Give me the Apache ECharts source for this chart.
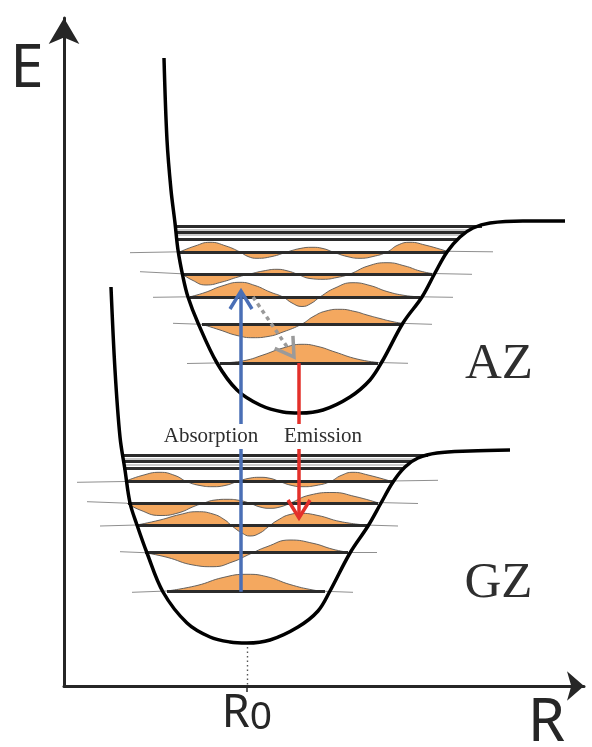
<!DOCTYPE html>
<html>
<head>
<meta charset="utf-8">
<script src="https://cdn.jsdelivr.net/npm/echarts@6/dist/echarts.min.js"></script>
<style>
  html, body { margin: 0; padding: 0; background: #fff; }
  #chart { width: 592px; height: 747px; }
</style>
</head>
<body>
<div id="chart"></div>
<script>
// Potential energy curves, [R, E] in arbitrary units
const azCurve = [[10.0,62.8],[10.3,54.6],[10.7,49.6],[11.1,46.3],[11.4,43.6],[11.9,40.9],[12.4,38.9],[13.4,36.3],[15.3,32.3],[17.3,29.6],[19.6,28.1],[21.9,27.4],[23.6,27.3],[25.9,27.6],[28.6,28.9],[30.6,30.6],[31.9,32.6],[33.9,36.3],[35.8,38.9],[37.1,41.3],[38.3,43.4],[39.6,44.9],[40.9,45.8],[42.6,46.3],[45.9,46.5],[50.1,46.5]];
const gzCurve = [[4.7,39.9],[5.1,31.6],[5.6,24.9],[6.1,21.6],[6.6,18.3],[7.3,16.1],[8.3,13.3],[9.9,9.4],[12.3,6.3],[14.6,4.9],[16.6,4.4],[18.3,4.3],[20.6,4.6],[23.4,5.9],[25.4,7.5],[26.6,9.5],[28.6,13.3],[30.4,16.0],[31.7,18.3],[32.9,20.4],[34.1,21.9],[35.4,22.8],[37.3,23.3],[40.6,23.5],[44.6,23.6]];

// Vibrational levels (energy, left and right turning points)
const azLevels = [32.3, 36.2, 38.9, 41.2, 43.4];
const azLevelLeft = [15.6, 13.8, 12.6, 11.8, 11.6];
const azLevelRight = [31.4, 33.9, 35.6, 36.8, 38.4];
const gzLevels = [9.43, 13.33, 16.1, 18.27, 20.43];
const gzLevelLeft = [10.3, 8.1, 7.3, 6.4, 6.1];
const gzLevelRight = [26.1, 28.4, 30.3, 31.4, 32.9];

// Dense levels just below dissociation
const azBand = [46.0, 45.65, 45.4, 45.1, 44.7];
const azBandLeft = [11.2, 11.25, 11.25, 11.3, 11.4];
const azBandRight = [41.8, 40.6, 40.2, 39.9, 39.4];
const gzBand = [23.05, 22.7, 22.45, 22.15, 21.75];
const gzBandLeft = [5.8, 5.85, 5.85, 5.9, 5.95];
const gzBandRight = [36.4, 35.2, 34.8, 34.5, 34.0];

// Wavefunctions drawn on each level; first and last points are the tails
const azPsi = [
  [[12.3,32.25],[16.1,32.32],[18.1,32.55],[19.9,33.1],[21.9,33.8],[23.8,34.17],[25.4,33.95],[27.1,33.4],[29.3,32.7],[31.4,32.35],[34.4,32.27]],
  [[10.9,36.27],[13.8,36.17],[15.6,35.6],[17.3,35.05],[18.9,34.83],[20.4,34.95],[21.9,35.4],[23.8,36.2],[24.9,36.93],[26.2,37.5],[27.6,37.67],[29.1,37.45],[30.3,37.1],[31.6,36.75],[32.9,36.43],[33.9,36.26],[36.8,36.17]],
  [[8.9,38.87],[12.6,38.92],[14.1,39.35],[15.8,40.0],[17.6,40.37],[19.1,40.05],[20.6,39.4],[21.9,38.9],[22.8,38.3],[23.8,37.95],[24.7,38.25],[25.6,38.9],[27.1,39.8],[28.9,40.33],[30.6,40.05],[32.3,39.45],[34.1,39.05],[35.6,38.92],[38.9,38.87]],
  [[7.6,41.43],[11.8,41.22],[12.8,40.6],[14.2,40.1],[15.8,40.4],[17.4,40.9],[18.6,41.2],[19.9,41.5],[21.3,41.67],[22.4,41.5],[23.3,41.2],[24.6,40.75],[25.9,40.67],[27.3,40.85],[28.6,41.2],[30.4,42.0],[32.3,42.33],[34.1,42.0],[35.6,41.5],[36.8,41.25],[40.8,41.17]],
  [[6.6,43.33],[11.6,43.42],[13.1,44.0],[14.6,44.37],[16.2,44.0],[17.6,43.4],[18.4,42.95],[19.3,42.77],[20.8,42.95],[22.3,43.4],[23.6,43.75],[24.8,43.87],[25.9,43.75],[26.9,43.4],[28.3,42.95],[29.6,42.77],[30.9,42.95],[32.3,43.4],[33.4,44.1],[34.6,44.37],[36.1,44.1],[38.3,43.47],[42.9,43.42]]
];
const gzPsi = [
  [[6.8,9.37],[10.3,9.5],[13.3,10.05],[15.9,10.85],[18.3,11.17],[20.3,10.93],[22.6,10.15],[24.9,9.6],[26.1,9.47],[28.9,9.37]],
  [[5.6,13.43],[8.1,13.33],[10.3,12.87],[12.9,12.1],[14.9,11.93],[16.9,12.43],[18.6,13.2],[20.3,13.93],[22.6,14.6],[24.9,14.27],[26.9,13.67],[28.4,13.37],[31.3,13.33]],
  [[3.6,16.0],[7.3,16.1],[9.6,16.6],[11.6,17.15],[13.3,17.43],[14.9,17.2],[16.1,16.6],[16.8,16.0],[17.8,15.3],[18.6,15.0],[19.6,15.3],[20.4,15.9],[21.4,16.6],[22.6,17.15],[23.6,17.27],[25.4,17.05],[27.6,16.45],[30.1,16.1],[33.4,16.0]],
  [[2.3,18.43],[6.3,18.28],[7.6,17.6],[9.6,17.05],[11.4,17.3],[13.1,18.0],[13.9,18.27],[15.1,18.6],[16.3,18.67],[17.6,18.55],[18.6,18.27],[19.6,17.9],[20.6,17.77],[21.6,17.9],[22.6,18.27],[24.6,19.1],[26.9,19.35],[29.1,18.95],[31.3,18.35],[35.4,18.25]],
  [[1.3,20.37],[6.1,20.45],[7.8,21.05],[9.6,21.37],[11.1,21.05],[12.3,20.43],[13.6,20.05],[14.9,19.93],[16.1,20.05],[17.3,20.43],[18.5,20.77],[19.6,20.87],[20.6,20.77],[21.6,20.43],[22.8,20.05],[23.9,19.93],[25.2,20.05],[26.6,20.43],[27.7,21.05],[28.9,21.37],[30.4,21.1],[32.6,20.5],[37.4,20.57]]
];

// Transitions: [R start, E start, R end, E end]
const absorption = [17.7, 9.43, 17.7, 39.5];
const emission = [23.5, 32.3, 23.5, 16.8];
const relaxation = [18.9, 38.9, 23.0, 32.9];

// Equilibrium distance of the ground state
const R0 = 18.3;
const gzMinimum = 4.3;

const INK = '#262626';
const FILL = '#f4a85f';

function levelSegments(levels, left, right) {
  return levels.map((e, i) => ({ coords: [[left[i], e], [right[i], e]] }));
}

function waveSeries(points, level) {
  return {
    type: 'line', data: points.slice(1, -1), smooth: 0.5, symbol: 'none', z: 2, silent: true,
    lineStyle: { color: '#555', width: 0.9 },
    areaStyle: { color: FILL, opacity: 1, origin: level }
  };
}

function tailSegments(list) {
  const out = [];
  list.forEach(p => {
    const n = p.length;
    out.push({ coords: [p[0], p[1]] }, { coords: [p[n - 2], p[n - 1]] });
  });
  return out;
}

function lineSet(data, color, width, z) {
  return {
    type: 'lines', coordinateSystem: 'cartesian2d', data: data, z: z, silent: true,
    lineStyle: { color: color, width: width, opacity: 1, curveness: 0 }
  };
}

function bandSegments(levels, left, right, keepEven) {
  return levelSegments(levels, left, right).filter((d, i) => (i % 2 === 0) === keepEven);
}

const series = [];
azPsi.forEach((p, i) => series.push(waveSeries(p, azLevels[i])));
gzPsi.forEach((p, i) => series.push(waveSeries(p, gzLevels[i])));

series.push(lineSet(tailSegments(azPsi.concat(gzPsi)), '#8f8f8f', 1, 3));
series.push(lineSet(levelSegments(azLevels, azLevelLeft, azLevelRight)
  .concat(levelSegments(gzLevels, gzLevelLeft, gzLevelRight)), '#2b2b2b', 3, 3));
series.push(lineSet(bandSegments(azBand, azBandLeft, azBandRight, true)
  .concat(bandSegments(gzBand, gzBandLeft, gzBandRight, true)), '#2b2b2b', 3, 3));
series.push(lineSet(bandSegments(azBand, azBandLeft, azBandRight, false)
  .concat(bandSegments(gzBand, gzBandLeft, gzBandRight, false)), '#b8b8b8', 1.5, 3));

// Dotted guide from the ground-state minimum down to R0
series.push({
  type: 'lines', coordinateSystem: 'cartesian2d', z: 3, silent: true,
  data: [{ coords: [[R0, gzMinimum - 0.4], [R0, 0]] }],
  lineStyle: { color: '#555', width: 1.4, type: [1.5, 3], opacity: 1 }
});

[azCurve, gzCurve].forEach(c => series.push({
  type: 'line', data: c, smooth: 0.35, symbol: 'none', z: 4, silent: true,
  lineStyle: { color: '#000', width: 3.5 }
}));

// Transition arrows with open chevron heads
const arrowLook = [
  { color: '#4a6fb6', dash: null, shorten: 0 },
  { color: '#e3302a', dash: null, shorten: 0 },
  { color: '#9a9a9a', dash: [4, 4], shorten: 10 }
];
series.push({
  type: 'custom', coordinateSystem: 'cartesian2d', z: 5, silent: true,
  data: [absorption, emission, relaxation],
  encode: { x: [0, 2], y: [1, 3] },
  renderItem: function (params, api) {
    const look = arrowLook[params.dataIndex];
    const p0 = api.coord([api.value(0), api.value(1)]);
    const p1 = api.coord([api.value(2), api.value(3)]);
    const dx = p1[0] - p0[0], dy = p1[1] - p0[1];
    const len = Math.hypot(dx, dy);
    const ux = dx / len, uy = dy / len;
    const back = 18, half = 11;
    const w1 = [p1[0] - ux * back - uy * half, p1[1] - uy * back + ux * half];
    const w2 = [p1[0] - ux * back + uy * half, p1[1] - uy * back - ux * half];
    const end = [p1[0] - ux * look.shorten, p1[1] - uy * look.shorten];
    return {
      type: 'group',
      children: [
        { type: 'line', shape: { x1: p0[0], y1: p0[1], x2: end[0], y2: end[1] },
          style: { stroke: look.color, lineWidth: 3.5, lineDash: look.dash, lineCap: 'butt' } },
        { type: 'polyline', shape: { points: [w1, p1, w2] },
          style: { stroke: look.color, lineWidth: 3.5, fill: null, lineJoin: 'miter' } }
      ]
    };
  }
});

// Text labels
function textPoint(value, text, style) {
  return { value: value, label: Object.assign({ show: true, position: 'inside', formatter: text }, style) };
}
const serif = { fontFamily: 'Liberation Serif', color: '#2e2e2e' };
series.push({
  type: 'scatter', symbolSize: 0, clip: false, z: 6, silent: true,
  itemStyle: { opacity: 1 },
  data: [
    textPoint([14.7, 24.95], 'Absorption', Object.assign({ fontSize: 21, backgroundColor: '#fff', padding: [2, 2] }, serif)),
    textPoint([25.9, 24.95], 'Emission', Object.assign({ fontSize: 21, backgroundColor: '#fff', padding: [2, 2] }, serif)),
    textPoint([43.5, 32.15], 'AZ', Object.assign({ fontSize: 51 }, serif)),
    textPoint([43.45, 10.2], 'GZ', Object.assign({ fontSize: 51 }, serif)),
    textPoint([-3.7, 61.6], 'E', { fontFamily: 'Noto Sans', fontSize: 60, color: INK }),
    textPoint([48.25, -3.8], 'R', { fontFamily: 'Noto Sans', fontSize: 60, color: INK })
  ]
});

const chart = echarts.init(document.getElementById('chart'), null, { renderer: 'canvas' });
chart.setOption({
  animation: false,
  backgroundColor: '#fff',
  grid: { left: 64, right: 8, top: 18, bottom: 61 },
  xAxis: {
    type: 'value', min: 0, max: 52,
    splitLine: { show: false },
    axisLine: { show: true, onZero: false, symbol: ['none', 'arrow'], symbolSize: [22, 17],
      lineStyle: { color: INK, width: 3 } },
    axisTick: { show: true, customValues: [R0], length: 6, lineStyle: { color: INK, width: 1.5 } },
    axisLabel: {
      show: true, customValues: [R0], margin: 6,
      formatter: function () { return '{r|R}{s|0}'; },
      rich: {
        r: { fontFamily: 'Noto Sans', fontSize: 45, lineHeight: 45, color: INK, verticalAlign: 'bottom' },
        s: { fontFamily: 'Noto Sans', fontSize: 39, lineHeight: 30, color: INK, verticalAlign: 'bottom' }
      }
    }
  },
  yAxis: {
    type: 'value', min: 0, max: 66.8,
    splitLine: { show: false },
    axisLine: { show: true, onZero: false, symbol: ['none', 'arrow'], symbolSize: [23, 26],
      lineStyle: { color: INK, width: 3 } },
    axisTick: { show: false },
    axisLabel: { show: false }
  },
  series: series
});
</script>
</body>
</html>
